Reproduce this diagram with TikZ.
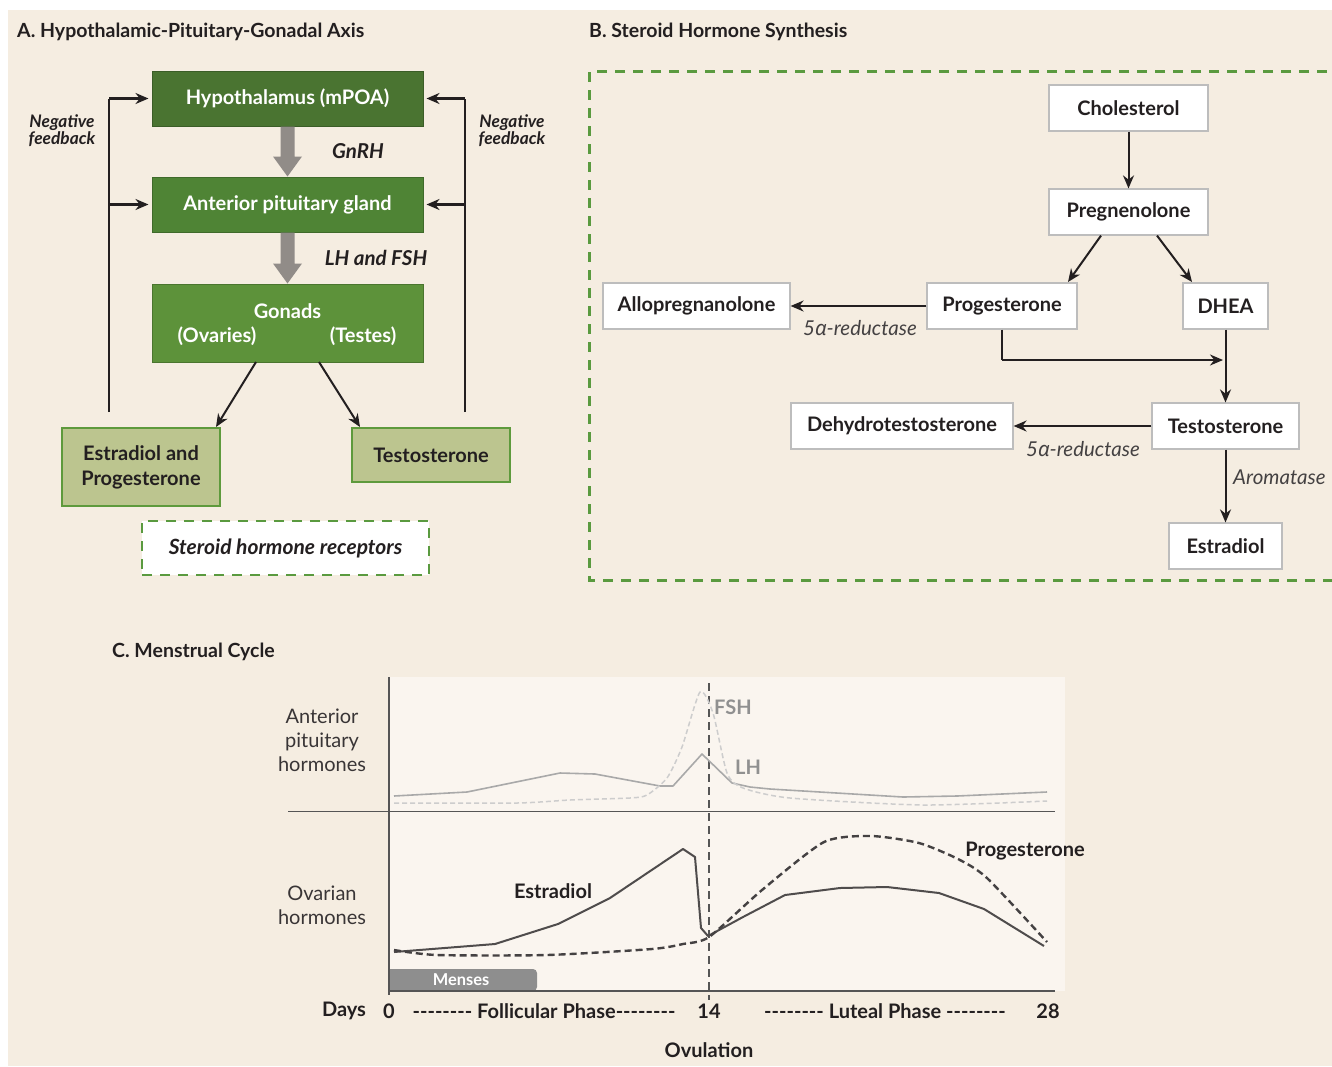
\documentclass[tikz,border=0pt]{standalone}
\usepackage{fontspec}
\setmainfont{Lato}
\newfontfamily\grk{Noto Sans}
\usetikzlibrary{arrows.meta}
\definecolor{bg}{HTML}{F5EDE1}
\definecolor{chartbg}{HTML}{FAF5EF}
\definecolor{hypg}{HTML}{4A7431}
\definecolor{antg}{HTML}{4F8435}
\definecolor{gong}{HTML}{5D923A}
\definecolor{lightg}{HTML}{BCC58F}
\definecolor{lgborder}{HTML}{5E9A3C}
\definecolor{dashg}{HTML}{5A9A3F}
\definecolor{ink}{HTML}{231F20}
\definecolor{garr}{HTML}{918C88}
\definecolor{boxgray}{HTML}{BDBDBD}
\definecolor{lhc}{HTML}{A9A9A9}
\definecolor{fshc}{HTML}{CDCDCD}
\definecolor{axisc}{HTML}{555555}
\definecolor{mens}{HTML}{8E8E8E}
\newcommand\hyphrow{-{}-{}-{}-{}-{}-{}-{}-}
\begin{document}
\begin{tikzpicture}[x=1pt,y=-1pt,
  gbox/.style={draw=#1!80!black, line width=1pt, text=white, font=\bfseries\fontsize{20}{24}\selectfont, minimum width=271pt, inner sep=0pt},
  gtxt/.style={text=white, font=\bfseries\fontsize{20}{24}\selectfont, inner sep=0pt},
  lbox/.style={draw=lgborder, fill=lightg, line width=1.6pt, text=ink, font=\bfseries\fontsize{20}{25}\selectfont, align=center, minimum width=158pt, inner sep=0pt},
  bbox/.style={draw=boxgray, fill=white, line width=1.2pt, text=ink, font=\bfseries\fontsize{20}{24}\selectfont, minimum height=46pt, inner sep=0pt},
  arr/.style={draw=ink, line width=2pt, -{Stealth[length=13pt,width=11pt]}},
  fbl/.style={draw=ink, line width=2.2pt},
  lab/.style={text=ink, font=\bfseries\itshape\fontsize{20.5}{24}\selectfont, inner sep=0pt},
  enz/.style={text=ink!85, font=\itshape\fontsize{20.5}{24}\selectfont, inner sep=0pt},
  gdash/.style={draw=dashg, line width=2.4pt, dash pattern=on 10pt off 8pt},
  ttl/.style={text=ink, font=\bfseries\fontsize{19.5}{23}\selectfont, anchor=west, inner sep=0pt},
  ch/.style={text=ink, font=\bfseries\fontsize{20}{24}\selectfont, inner sep=0pt}
]
\useasboundingbox (0,0) rectangle (1332,1066);
\fill[white] (0,0) rectangle (1332,1066);
\fill[bg] (8,10) rectangle (1332,1066);

%% ---------- Panel A ----------
\node[ttl] (ta) at (17,32) {A. Hypothalamic-Pituitary-Gonadal Axis};

\node[gbox=hypg, fill=hypg, minimum height=55pt] (hyp) at (287.5,98.5) {Hypothalamus (mPOA)};
\node[gbox=antg, fill=antg, minimum height=55pt] (ant) at (287.5,204.5) {Anterior pituitary gland};
\node[gbox=gong, fill=gong, minimum height=78pt] (gon) at (287.5,323) {};
\node[gtxt] (gont) at (287.5,311) {Gonads};
\node[gtxt] (ova) at (217,336) {(Ovaries)};
\node[gtxt] (tes) at (363,336) {(Testes)};

% gray arrows
\fill[garr] ([xshift=-7pt]hyp.south) -- ([xshift=-7pt,yshift=-30pt]hyp.south) -- ([xshift=-14.5pt,yshift=-30pt]hyp.south) -- (ant.north) -- ([xshift=14.5pt,yshift=-30pt]hyp.south) -- ([xshift=7pt,yshift=-30pt]hyp.south) -- ([xshift=7pt]hyp.south) -- cycle;
\fill[garr] ([xshift=-7pt]ant.south) -- ([xshift=-7pt,yshift=-31pt]ant.south) -- ([xshift=-14.5pt,yshift=-31pt]ant.south) -- (gon.north) -- ([xshift=14.5pt,yshift=-31pt]ant.south) -- ([xshift=7pt,yshift=-31pt]ant.south) -- ([xshift=7pt]ant.south) -- cycle;
\node[lab] (gnrh) at (358,151) {GnRH};
\node[lab] (lhfsh) at (376,258) {LH and FSH};

\node[lbox, minimum height=78pt] (ep) at (141,467) {Estradiol and\\Progesterone};
\node[lbox, minimum height=54pt] (tst) at (431,455) {Testosterone};

\coordinate (go1) at (256,362);
\coordinate (go2) at (319,362);
\draw[arr] (go1) -- (216,427);
\draw[arr] (go2) -- (360,427);

% feedback lines
\coordinate (lf0) at (109,412);
\coordinate (lf1) at (109,98.5);
\coordinate (lf2) at (109,204.5);
\coordinate (rf0) at (465,412);
\coordinate (rf1) at (465,98.5);
\coordinate (rf2) at (465,204.5);
\draw[fbl] (lf0) -- (lf1);
\draw[fbl] (rf0) -- (rf1);
\draw[arr, line width=2.2pt] (lf1) -- ([xshift=-3pt]hyp.west);
\draw[arr, line width=2.2pt] (lf2) -- ([xshift=-3pt]ant.west);
\draw[arr, line width=2.2pt] (rf1) -- ([xshift=3pt]hyp.east);
\draw[arr, line width=2.2pt] (rf2) -- ([xshift=3pt]ant.east);
\node[lab, font=\bfseries\itshape\fontsize{17.3}{17}\selectfont, align=center] (nfl) at (62,131) {Negative\\feedback};
\node[lab, font=\bfseries\itshape\fontsize{17.3}{17}\selectfont, align=center] (nfr) at (512,131) {Negative\\feedback};

\node[gdash, fill=white, minimum width=287pt, minimum height=54pt, inner sep=0pt] (rec) at (285.5,548) {};
\node[lab, font=\bfseries\itshape\fontsize{21}{24}\selectfont] (rect) at (285.5,548) {Steroid hormone receptors};

%% ---------- Panel B ----------
\node[ttl] (tb) at (589,32) {B. Steroid Hormone Synthesis};
\draw[gdash] (1345,71.5) -- (589.5,71.5) -- (589.5,580.5) -- (1345,580.5);

\node[bbox, minimum width=159pt] (chol) at (1128.5,108) {Cholesterol};
\node[bbox, minimum width=159pt] (preg) at (1128.5,212) {Pregnenolone};
\node[bbox, minimum width=150pt] (prog) at (1002,306) {Progesterone};
\node[bbox, minimum width=85pt] (dhea) at (1225.5,306) {DHEA};
\node[bbox, minimum width=187pt] (allo) at (696.5,306) {Allopregnanolone};
\node[bbox, minimum width=147pt] (test) at (1225.5,426) {Testosterone};
\node[bbox, minimum width=222pt] (dht) at (902,426) {Dehydrotestosterone};
\node[bbox, minimum width=113pt] (estr) at (1225.5,546) {Estradiol};

\draw[arr] (chol) -- (preg);
\draw[arr] (preg.south -| 1101,0) -- (1068,282);
\draw[arr] (preg.south -| 1157,0) -- (1192,282);
\draw[arr] (prog) -- (allo);
\node[enz] (e1) at (860,328) {5{\grk\itshape α}-reductase};
\coordinate (pc) at (1002,360);
\coordinate (pe) at (1223,360);
\draw[fbl, line width=2pt] (prog.south) -- (pc);
\draw[arr] (pc) -- (pe);
\draw[arr] (dhea) -- (test);
\draw[arr] (test) -- (dht);
\node[enz] (e2) at (1083,449) {5{\grk\itshape α}-reductase};
\draw[arr] (test) -- (estr);
\node[enz, anchor=west] (aro) at (1233,477) {Aromatase};

%% ---------- Panel C ----------
\node[ttl] (tc) at (112,652) {C. Menstrual Cycle};
\fill[chartbg] (389,677) rectangle (1065,991);
\node[fill=mens, rounded corners=4pt, minimum width=148pt, minimum height=22pt, inner sep=0pt] (mb) at (463,980) {};
\fill[mens] (389,969) rectangle (400,991);
\node[text=white, font=\bfseries\fontsize{16.4}{18}\selectfont, inner sep=0pt] (mt) at (461,980) {Menses};

\coordinate (ax0) at (389,677);
\coordinate (ax1) at (389,995);
\coordinate (hd0) at (288,811.5);
\coordinate (hd1) at (1055,811.5);
\coordinate (bx1) at (1055,991);
\coordinate (ov0) at (709,683);
\coordinate (ov1) at (709,1000);
\draw[axisc, line width=1.5pt] (ax0) -- (ax1);
\draw[axisc, line width=1.5pt] (hd0) -- (hd1);
\draw[axisc, line width=1.5pt] (389,991) -- (bx1);
\draw[axisc, line width=1.8pt, dash pattern=on 8pt off 5pt] (ov0) -- (ov1);

% LH
\draw[lhc, line width=1.6pt, line join=round] (394,796) -- (467,792) -- (560,773) -- (595,774) -- (660,786) -- (673,786) -- (702,754) -- (732,783) -- (750,787) -- (770,789) -- (903,797) -- (957,796) -- (1047,792);
% FSH
\draw[fshc, line width=1.5pt, dash pattern=on 5pt off 3pt, line join=round] plot[smooth, tension=0.4] coordinates {(394,803) (517,803) (570,800) (630,798) (647,795) (667,778) (682,747) (700,692) (713,713) (727,773) (743,788) (790,798) (923,805) (1047,801)};
% Estradiol
\draw[ink!80, line width=2pt, line join=round] (394,952) -- (495,944) -- (558,924) -- (610,898) -- (683,849) -- (695,857) -- (701,928) -- (708,936) -- (743,917) -- (785,895) -- (840,888) -- (887,887) -- (939,893) -- (984,909) -- (1044,946);
% Progesterone
\draw[ink!85, line width=2.4pt, dash pattern=on 7pt off 4pt, line join=round] plot[smooth, tension=0.4] coordinates {(394,950) (437,955) (547,955) (652,949) (683,944) (709,937) (762,890) (824,842) (871,836) (919,843) (958,859) (987,878) (1047,942)};

\node[text=lhc!85!black, font=\bfseries\fontsize{20}{24}\selectfont, inner sep=0pt] (fshl) at (733,707) {FSH};
\node[text=lhc!85!black, font=\bfseries\fontsize{20}{24}\selectfont, inner sep=0pt] (lhl) at (748,767) {LH};
\node[ch] (estl) at (553,891) {Estradiol};
\node[ch] (progl) at (1025,851) {Progesterone};

\node[text=ink!90, font=\fontsize{20}{24}\selectfont, align=center, inner sep=0pt] (yl1) at (322,740) {Anterior\\pituitary\\hormones};
\node[text=ink!90, font=\fontsize{20}{24}\selectfont, align=center, inner sep=0pt] (yl2) at (322,905) {Ovarian\\hormones};

\node[ch] (days) at (344,1011) {Days};
\node[ch] (d0) at (389,1011) {0};
\node[ch] (fol) at (544,1011) {\hyphrow{} Follicular Phase\hyphrow};
\node[ch] (d14) at (709,1011) {14};
\node[ch] (lut) at (885,1011) {\hyphrow{} Luteal Phase \hyphrow};
\node[ch] (d28) at (1048,1011) {28};
\node[ch] (ovl) at (709,1050) {Ovulation};
\end{tikzpicture}
\end{document}
